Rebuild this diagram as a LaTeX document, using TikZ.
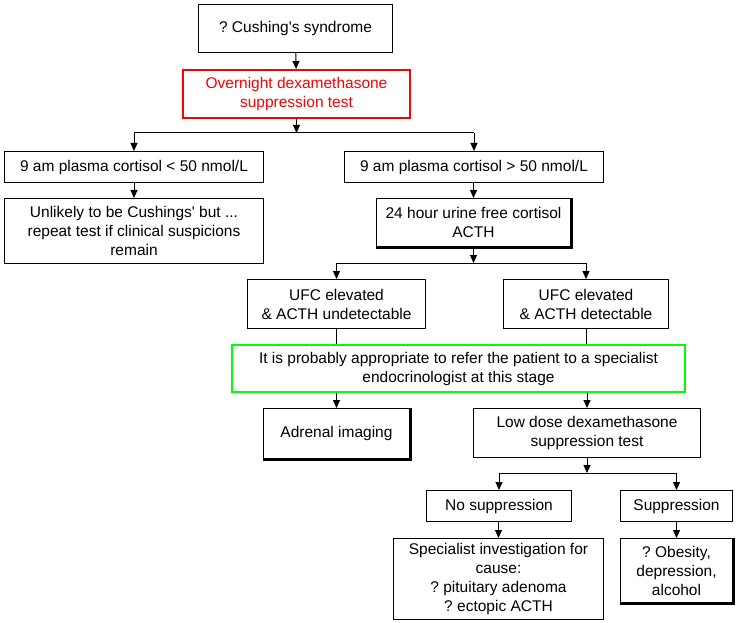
\documentclass[tikz,border=0pt]{standalone}
\usepackage{fontspec}
\setmainfont{Liberation Sans}
\usetikzlibrary{arrows.meta}
\definecolor{boxred}{RGB}{255,0,0}
\definecolor{boxgreen}{RGB}{0,255,0}
\frenchspacing
\begin{document}
\begin{tikzpicture}[x=1pt,y=-1pt,
  every node/.style={font=\fontsize{15.5}{19}\selectfont},
  box/.style={draw=black,line width=1pt,fill=white,align=center,inner sep=0pt,anchor=north west},
  redbox/.style={box,draw=boxred,line width=2pt,text=boxred},
  greenbox/.style={box,draw=boxgreen,line width=2pt},
  arr/.style={line width=1pt,-{Triangle[width=7pt,length=8pt]}},
  ln/.style={line width=1pt},
  shadowln/.style={line width=1.2pt}]
\useasboundingbox (0,0) rectangle (750,623);
\fill[white] (0,0) rectangle (750,623);
\def\bx#1#2#3#4#5#6{\node[#1,minimum width=#4-#2,minimum height=#5-#3] (#6) at (#2,#3)}
\bx{box}{198}{4}{392}{52}{cush} {? Cushing\textquotesingle s syndrome};
\bx{redbox}{182}{69}{409}{117}{over} {Overnight dexamethasone\\suppression test};
\bx{box}{4}{151}{263}{182}{lo} {9 am plasma cortisol < 50 nmol/L};
\bx{box}{4}{198}{263}{263}{unl} {Unlikely to be Cushings\textquotesingle{} but ...\\repeat test if clinical suspicions\\remain};
\bx{box}{344}{151}{603}{182}{hi} {9 am plasma cortisol > 50 nmol/L};
\bx{box}{376}{198}{570}{246}{ufc} {24 hour urine free cortisol\\ACTH};
\bx{box}{247}{279}{425}{328}{und} {UFC elevated\\\& ACTH undetectable};
\bx{box}{503}{279}{668}{328}{det} {UFC elevated\\\& ACTH detectable};
\bx{greenbox}{231}{344}{684}{391}{refer} {It is probably appropriate to refer the patient to a specialist\\endocrinologist at this stage};
\bx{box}{263}{408}{409}{458}{adr} {Adrenal imaging};
\bx{box}{473}{408}{700}{457}{low} {Low dose dexamethasone\\suppression test};
\bx{box}{426}{490}{571}{521}{nos} {No suppression};
\bx{box}{620}{490}{732}{521}{sup} {Suppression};
\bx{box}{393}{538}{603}{619}{spec} {Specialist investigation for\\cause:\\? pituitary adenoma\\? ectopic ACTH};
\bx{box}{620}{538}{732}{602}{obe} {? Obesity,\\depression,\\alcohol};
% shadows
\draw[shadowln] ([xshift=1pt]ufc.north east) -- ([xshift=1pt,yshift=-1pt]ufc.south east) -- ([yshift=-1pt]ufc.south west);
\draw[shadowln] ([xshift=1pt]adr.north east) -- ([xshift=1pt,yshift=-1pt]adr.south east) -- ([yshift=-1pt]adr.south west);
\draw[shadowln] ([xshift=1pt]obe.north east) -- ([xshift=1pt,yshift=-1pt]obe.south east) -- ([yshift=-1pt]obe.south west);
% connectors
\coordinate (s1) at (over.south |- 0,133);
\coordinate (s2) at (ufc.south |- 0,263);
\coordinate (s3) at (low.south |- 0,473);
\draw[arr] (cush) -- (over);
\draw[arr] (over) -- (s1);
\draw[ln] (lo.north |- s1) -- (hi.north |- s1);
\draw[arr] (lo.north |- s1) -- (lo.north);
\draw[arr] (hi.north |- s1) -- (hi.north);
\draw[arr] (lo) -- (unl);
\draw[arr] (hi.south -| ufc.north) -- (ufc.north);
\draw[arr] (ufc) -- (s2);
\draw[ln] (und.north |- s2) -- (det.north |- s2);
\draw[arr] (und.north |- s2) -- (und.north);
\draw[arr] (det.north |- s2) -- (det.north);
\draw[ln] (und.south) -- (und.south |- refer.north);
\draw[ln] (det.south) -- (det.south |- refer.north);
\draw[arr] (refer.south -| adr.north) -- (adr.north);
\draw[arr] (refer.south -| low.north) -- (low.north);
\draw[arr] (low) -- (s3);
\draw[ln] (nos.north |- s3) -- (sup.north |- s3);
\draw[arr] (nos.north |- s3) -- (nos.north);
\draw[arr] (sup.north |- s3) -- (sup.north);
\draw[arr] (nos.south -| spec.north) -- (spec.north);
\draw[arr] (sup) -- (obe);
\end{tikzpicture}
\end{document}
